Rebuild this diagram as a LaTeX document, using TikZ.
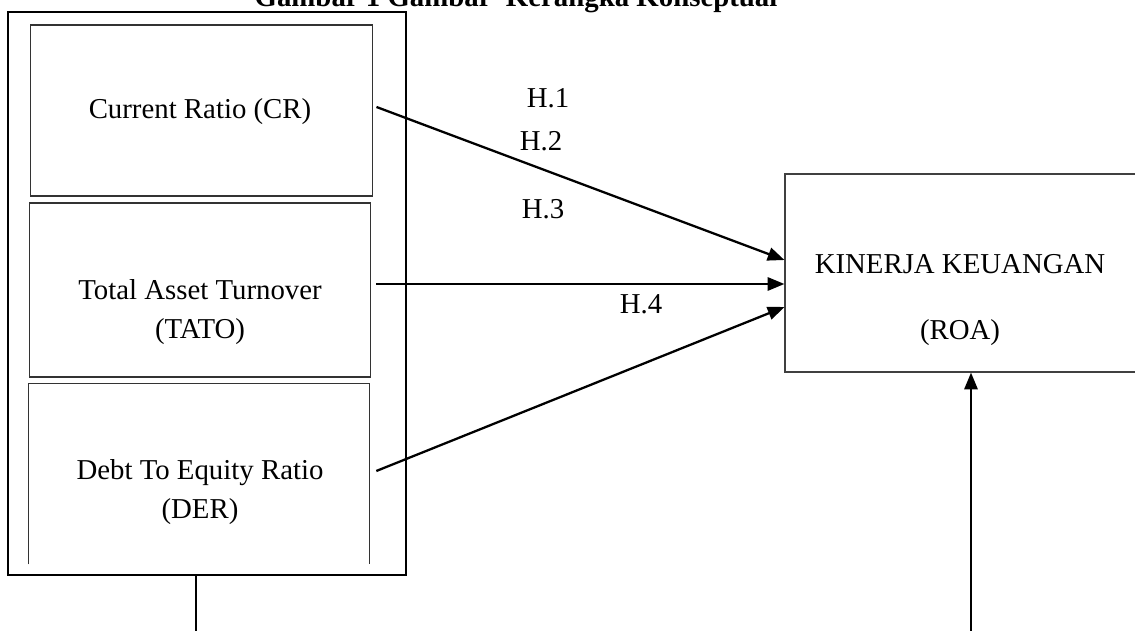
\documentclass[tikz,border=0pt]{standalone}
\usepackage{fontspec}
\setmainfont{Liberation Serif}
\usepackage{tikz}
\usetikzlibrary{arrows.meta}

\begin{document}
\begin{tikzpicture}[x=0.02cm, y=-0.02cm, font=\fontsize{16.4}{22.2}\selectfont,
    varbox/.style={draw=black!80, line width=0.6pt, inner sep=0pt},
    hyparrow/.style={-{Triangle[length=9.5pt, width=7.5pt]}, line width=1.3pt}]
    \clip (0,0) rectangle (1135,631);
    \node [anchor=base, font=\fontsize{16.4}{22.2}\selectfont\bfseries] (title) at (516,7) {Gambar 1 Gambar\ \ Kerangka Konseptual};

    \node [draw, line width=0.8pt, inner sep=0pt, minimum width=7.96cm, minimum height=11.26cm] (outer) at (207,293.5) {};
    \node [varbox, minimum width=6.86cm, minimum height=3.42cm] (crbox) at (201.5,110.5) {};
    \node [varbox, minimum width=6.84cm, minimum height=3.48cm] (tatobox) at (200,290) {};
    \node [inner sep=0pt, minimum width=6.8cm, minimum height=3.6cm] (derbox) at (199,474) {};
    \draw [varbox] (derbox.south west) -- (derbox.north west) -- (derbox.north east) -- (derbox.south east);
    \node [draw=black!75, line width=0.7pt, inner sep=0pt, minimum width=7.2cm, minimum height=3.96cm] (roa) at (965,273) {};

    \node (crtext) at (200,112) {Current Ratio (CR)};
    \node [align=center] (tatotext) at (200,312) {Total Asset Turnover\\(TATO)};
    \node [align=center] (dertext) at (200,492) {Debt To Equity Ratio\\(DER)};
    \node [align=center] (roatext) at (960,300) {KINERJA KEUANGAN\\[15pt](ROA)};

    \draw [hyparrow] ([shift={(3,-3.5)}]crbox.east) -- ([shift={(0,-13)}]roa.west);
    \draw [hyparrow] ([shift={(5,-6)}]tatobox.east) -- ([shift={(0,11)}]roa.west);
    \draw [hyparrow] ([shift={(7,-3)}]derbox.east) -- ([shift={(0,34)}]roa.west);

    \node (hone) at (548,98) {H.1};
    \node (htwo) at (541,141) {H.2};
    \node (hthree) at (543,209) {H.3};
    \node (hfour) at (641,304) {H.4};

    \coordinate (derfoot) at (196,640);
    \coordinate (roafoot) at (971,640);
    \draw [line width=1pt] (outer.south -| derfoot) -- (derfoot);
    \draw [hyparrow] (roafoot) -- (roa.south -| roafoot);
\end{tikzpicture}
\end{document}
